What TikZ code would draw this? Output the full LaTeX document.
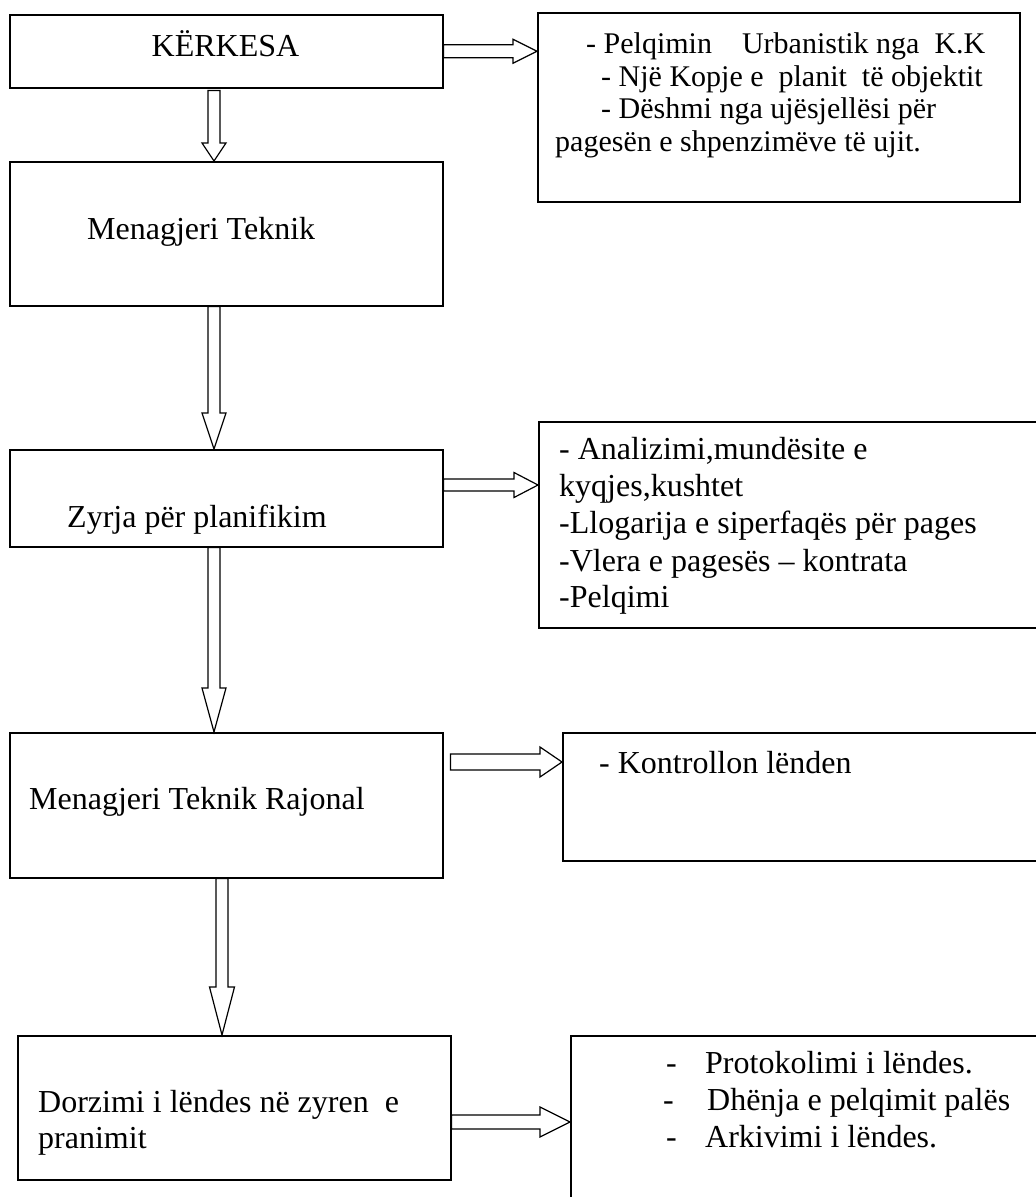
\documentclass[tikz,border=0pt]{standalone}
\usepackage{fontspec}
\setmainfont{Liberation Serif}
\usetikzlibrary{calc}
\tikzset{
  box/.style={draw, line width=1.5pt, anchor=north west, inner sep=0pt},
  txt/.style={anchor=base west, inner sep=0pt, font=\fontsize{32}{34}\selectfont},
  txts/.style={anchor=base west, inner sep=0pt, font=\fontsize{30}{32}\selectfont},
  blk/.style={draw, line width=1.2pt, line join=miter},
}
\newcommand{\blkH}[5]{%
  \draw[blk] ($(#1)+(0,-#3)$) -- ($(#2)+(-#5,-#3)$) -- ($(#2)+(-#5,-#4)$) -- (#2)
    -- ($(#2)+(-#5,#4)$) -- ($(#2)+(-#5,#3)$) -- ($(#1)+(0,#3)$) -- cycle;}
\newcommand{\blkV}[5]{%
  \draw[blk] ($(#1)+(-#3,0)$) -- ($(#2)+(-#3,-#5)$) -- ($(#2)+(-#4,-#5)$) -- (#2)
    -- ($(#2)+(#4,-#5)$) -- ($(#2)+(#3,-#5)$) -- ($(#1)+(#3,0)$) -- cycle;}
\begin{document}
\begin{tikzpicture}[x=1pt,y=-1pt]
\useasboundingbox (0,0) rectangle (1036,1197);
\clip (0,0) rectangle (1036,1197);
% left column boxes
\node[box, minimum width=433pt, minimum height=73pt]  (b1) at (9,14) {};
\node[box, minimum width=433pt, minimum height=144pt] (b2) at (9,161) {};
\node[box, minimum width=433pt, minimum height=97pt]  (b3) at (9,449) {};
\node[box, minimum width=433pt, minimum height=145pt] (b4) at (9,732) {};
\node[box, minimum width=433pt, minimum height=144pt] (b5) at (17,1035) {};
% right column boxes
\node[box, minimum width=482pt, minimum height=189pt] (r1) at (537,12) {};
\node[box, minimum width=520pt, minimum height=206pt] (r2) at (538,421) {};
\node[box, minimum width=500pt, minimum height=128pt] (r3) at (562,732) {};
\node[box, minimum width=490pt, minimum height=200pt] (r4) at (570,1035) {};
% texts, left
\node[txt, anchor=base] (t1) at (225.5,56) {KËRKESA};
\node[txt] (t2) at (87,239) {Menagjeri Teknik};
\node[txt] (t3) at (67,527) {Zyrja për planifikim};
\node[txt] (t4) at (29,809) {Menagjeri Teknik Rajonal};
\node[txt] (t5a) at (38,1112) {Dorzimi i lëndes në zyren\ \ e};
\node[txt] (t5b) at (38,1148) {pranimit};
% texts, right box 1
\node[txts] (r1a) at (586,53) {- Pelqimin\ \ \ \ Urbanistik nga\ \ K.K};
\node[txts] (r1b) at (601,86) {- Një Kopje e\ \ planit\ \ të objektit};
\node[txts] (r1c) at (601,118) {- Dëshmi nga ujësjellësi për};
\node[txts] (r1d) at (555,151) {pagesën e shpenzimëve të ujit.};
% right box 2
\node[txt] (r2a) at (559,459) {- Analizimi,mundësite e};
\node[txt] (r2b) at (559,496) {kyqjes,kushtet};
\node[txt] (r2c) at (559,533) {-Llogarija e siperfaqës për pages};
\node[txt] (r2d) at (559,571) {-Vlera e pagesës – kontrata};
\node[txt] (r2e) at (559,607) {-Pelqimi};
% right box 3
\node[txt] (r3a) at (599,773) {- Kontrollon lënden};
% right box 4
\node[txt] (r4a) at (666,1073) {\makebox[39pt][l]{-}Protokolimi i lëndes.};
\node[txt] (r4b) at (663,1110) {\makebox[44pt][l]{-}Dhënja e pelqimit palës};
\node[txt] (r4c) at (666,1147) {\makebox[39pt][l]{-}Arkivimi i lëndes.};
% horizontal block arrows
\coordinate (a1s) at (b1.east);
\coordinate (a1e) at (r1.west |- a1s);
\blkH{a1s}{a1e}{6.5}{12}{24}
\coordinate (a2s) at ($(b3.north east)+(0,36)$);
\coordinate (a2e) at (r2.west |- a2s);
\blkH{a2s}{a2e}{6}{12.5}{24}
\coordinate (a3s) at ($(b4.north east)+(7,30)$);
\coordinate (a3e) at (r3.west |- a3s);
\blkH{a3s}{a3e}{8}{15}{22}
\coordinate (a4s) at ($(b5.north east)+(0,87)$);
\coordinate (a4e) at (r4.west |- a4s);
\blkH{a4s}{a4e}{7}{15}{30}
% vertical block arrows
\coordinate (v1s) at ($(b1.south west)+(205,2)$);
\coordinate (v1e) at ($(b2.north west)+(205,0)$);
\blkV{v1s}{v1e}{6}{12}{18}
\coordinate (v2s) at ($(b2.south west)+(205,0)$);
\coordinate (v2e) at ($(b3.north west)+(205,0)$);
\blkV{v2s}{v2e}{6}{12}{36}
\coordinate (v3s) at ($(b3.south west)+(205,0)$);
\coordinate (v3e) at ($(b4.north west)+(205,0)$);
\blkV{v3s}{v3e}{6}{12}{44}
\coordinate (v4s) at ($(b4.south west)+(213,0)$);
\coordinate (v4e) at ($(b5.north west)+(205,0)$);
\blkV{v4s}{v4e}{6}{12.5}{48}
\end{tikzpicture}
\end{document}
